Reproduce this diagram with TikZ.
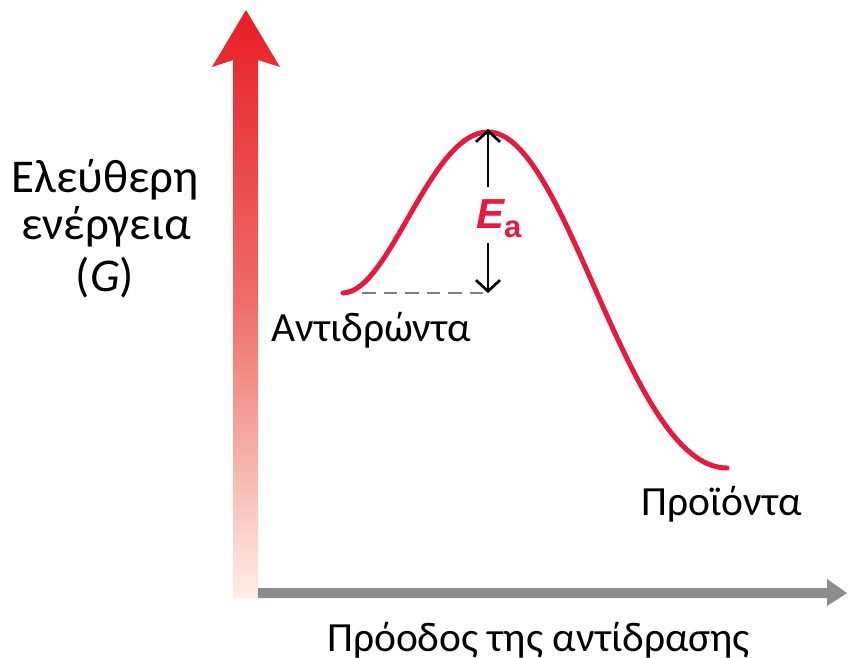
\documentclass[tikz,border=0pt]{standalone}
\usepackage{fontspec}
\setmainfont{Carlito}
\newfontfamily\easans{Liberation Sans}
\usetikzlibrary{arrows.meta}
\definecolor{curvered}{RGB}{232,24,62}
\definecolor{axisgray}{RGB}{140,140,140}
\definecolor{dashgray}{RGB}{128,128,128}
\definecolor{toprd}{RGB}{232,30,38}
\definecolor{botpink}{RGB}{253,238,230}
\tikzset{
  lbl/.style={font=\fontsize{41.5}{48}\selectfont, inner sep=0pt},
  biglbl/.style={font=\fontsize{47}{52}\selectfont, inner sep=0pt},
  curveline/.style={draw=curvered, line width=5pt},
  eaarrow/.style={draw=black, line width=2.7pt, -{Straight Barb[length=11pt,width=24pt,line width=2.7pt]}},
  dashline/.style={draw=dashgray, line width=2pt, dash pattern=on 13.5pt off 8pt}
}
\begin{document}
\begin{tikzpicture}[x=1pt,y=-1pt]
\useasboundingbox (0,0) rectangle (848,657);
% vertical gradient arrow
\shade[top color=toprd, bottom color=botpink, middle color={rgb,255:red,238;green,110;blue,105}]
  (233,598) -- (233,60) -- (212,67) -- (246,10) -- (280,67) -- (258,60) -- (258,598) -- cycle;
% horizontal axis arrow
\fill[axisgray] (258,588) -- (827,588) -- (827,579) -- (847,593) -- (827,606) -- (827,598) -- (258,598) -- cycle;
% coordinates
\coordinate (start) at (343,293);
\coordinate (peak) at (488,132);
\coordinate (finish) at (727,468);
\coordinate (base) at (488,293);
\coordinate (dashstart) at (362,293);
% curve
\draw[curveline, line cap=round] (start) .. controls (390,292) and (430,132) .. (peak)
  .. controls (568,132) and (627,468) .. (finish);
% dashed line
\draw[dashline] (dashstart) -- (base);
% Ea label
\node[inner sep=0pt, anchor=base west, text=curvered] (ea) at (476,228)
  {\easans\fontsize{42}{42}\selectfont\bfseries\itshape E\raisebox{-9pt}{\upshape\fontsize{31}{31}\selectfont a}};
\coordinate (eatop) at (488,187);
\coordinate (eabot) at (488,243);
\draw[eaarrow] (eatop) -- ([yshift=3pt]peak);
\draw[eaarrow] (eabot) -- (base);
% labels
\node[biglbl, anchor=base] (g1) at (105,192) {Ελεύθερη};
\node[biglbl, anchor=base] (g2) at (106,239) {ενέργεια};
\node[biglbl, anchor=base] (g3) at (105,291) {(\textit{G})};
\node[lbl, anchor=base west] (react) at (271,341) {Αντιδρώντα};
\node[lbl, anchor=base west] (prod) at (641,515) {Προϊόντα};
\node[lbl, anchor=base west] (xlab) at (327,651) {Πρόοδος της αντίδρασης};
\end{tikzpicture}
\end{document}
